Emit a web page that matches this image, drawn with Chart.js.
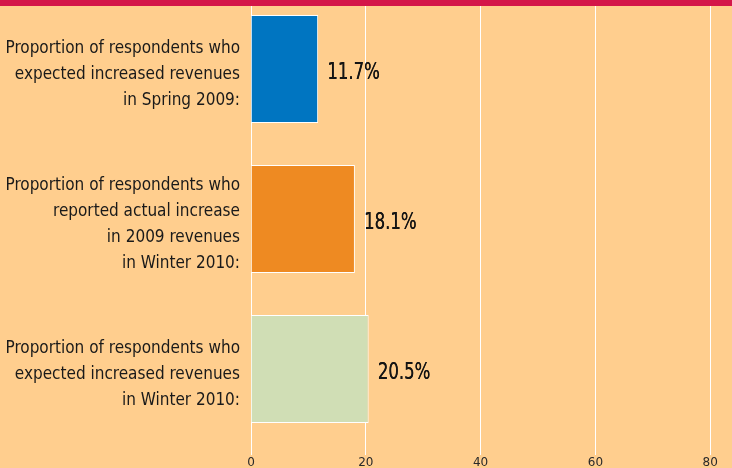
<!DOCTYPE html>
<html>
<head>
<meta charset="utf-8">
<script src="https://cdn.jsdelivr.net/npm/chart.js@4"></script>
<style>
  html, body { margin: 0; padding: 0; background: #FFCE8E; overflow: hidden; }
  #wrap { position: relative; width: 732px; height: 468px; overflow: hidden; }
  #band { position: absolute; left: 0; top: 0; width: 732px; height: 6px; background: #D4164A; z-index: 2; }
  #chartBox { position: absolute; left: 0; top: -6px; width: 732px; height: 474px; }
</style>
</head>
<body>
<div id="wrap">
  <div id="band"></div>
  <div id="chartBox"><canvas id="myChart" width="732" height="474"></canvas></div>
</div>
<script>
const categories = [
  ["Proportion of respondents who", "expected increased revenues", "in Spring 2009:"],
  ["Proportion of respondents who", "reported actual increase", "in 2009 revenues", "in Winter 2010:"],
  ["Proportion of respondents who", "expected increased revenues", "in Winter 2010:"]
];
const values = [11.7, 18.1, 20.5];
const barColors = ["#0075C1", "#EE8A22", "#D0DEB5"];
const xTicks = [0, 20, 40, 60, 80];

const narrow = "'DejaVu Sans Condensed', 'Liberation Sans Narrow', 'Arial Narrow', sans-serif";

// writes the value next to each bar (squeezed a bit to look condensed)
const valueLabels = {
  id: "valueLabels",
  afterDatasetsDraw(chart) {
    const ctx = chart.ctx;
    const meta = chart.getDatasetMeta(0);
    ctx.save();
    ctx.font = "23px " + narrow;
    ctx.fillStyle = "#141414";
    ctx.textAlign = "left";
    ctx.textBaseline = "middle";
    meta.data.forEach((bar, i) => {
      ctx.save();
      ctx.translate(bar.x + 9, bar.y + 4);
      ctx.scale(0.8, 1);
      ctx.fillText(values[i].toFixed(1) + "%", 0, 0);
      ctx.fillText(values[i].toFixed(1) + "%", 0.4, 0);
      ctx.restore();
    });
    ctx.restore();
  }
};

new Chart("myChart", {
  type: "bar",
  data: {
    labels: categories,
    datasets: [{
      data: values,
      backgroundColor: barColors,
      borderColor: "#ffffff",
      borderWidth: 1,
      barPercentage: 0.72,
      categoryPercentage: 1
    }]
  },
  options: {
    indexAxis: "y",
    responsive: false,
    animation: false,
    layout: {padding: 0},
    plugins: {legend: {display: false}, tooltip: {enabled: false}},
    scales: {
      x: {
        min: 0,
        max: 83.8,
        afterFit: s => { s.height = 24; s.paddingLeft = 0; s.paddingRight = 0; },
        afterBuildTicks: s => { s.ticks = xTicks.map(v => ({value: v})); },
        border: {display: false},
        grid: {color: "#ffffff", lineWidth: 1, tickLength: 11},
        ticks: {
          padding: 1,
          maxRotation: 0,
          color: "#2a2a2a",
          font: {family: "DejaVu Sans", size: 12}
        }
      },
      y: {
        afterFit: s => { s.width = 251; s.paddingTop = 0; s.paddingBottom = 0; },
        border: {display: false},
        grid: {display: false, drawTicks: false},
        ticks: {
          padding: 11,
          labelOffset: 6,
          color: "#1a1a1a",
          font: {family: narrow, size: 17, lineHeight: 1.53}
        }
      }
    }
  },
  plugins: [valueLabels]
});
</script>
</body>
</html>
